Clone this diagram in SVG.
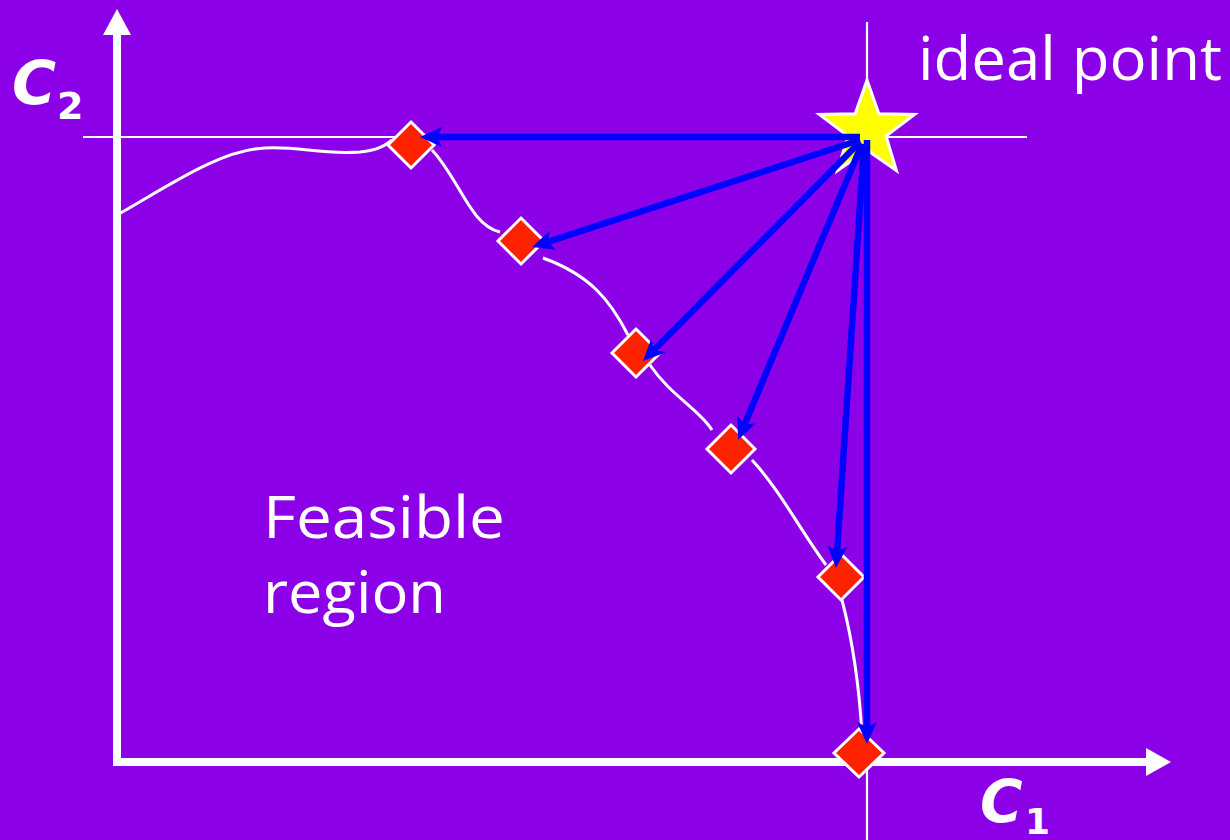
<svg xmlns="http://www.w3.org/2000/svg" xmlns:xlink="http://www.w3.org/1999/xlink" width="1230" height="840" viewBox="0 0 1230 840">
<defs>
<style>
.axis{stroke:#fff;stroke-width:8;fill:none}
.thin{stroke:#fff;stroke-width:2.2;fill:none}
.curve{stroke:#fff;stroke-width:3;fill:none}
.arr{stroke:#0000ff;stroke-width:6.5;fill:none}
.head{fill:#0000ff}
.dia{fill:#ff2200;stroke:#fff;stroke-width:3}
.lbl{fill:#fff;font-family:"Open Sans","DejaVu Sans",sans-serif}
.var{fill:#fff;font-family:"DejaVu Sans","Liberation Sans",sans-serif;font-weight:bold;font-style:italic}
.sub{fill:#fff;font-family:"DejaVu Sans","Liberation Sans",sans-serif;font-weight:bold;font-style:normal}
</style>
<path id="head" d="M0,0 L-22,-10 L-17,0 L-22,10 z"/>
</defs>
<rect width="1230" height="840" fill="#8c00e8"/>
<g id="axes">
<line class="axis" x1="117" y1="30" x2="117" y2="766"/>
<polygon points="117,9 103,35 131,35" fill="#fff"/>
<line class="axis" x1="113" y1="762" x2="1150" y2="762"/>
<polygon points="1171,762 1146,748 1146,776" fill="#fff"/>
<line class="thin" x1="83" y1="137" x2="1027" y2="137"/>
<line class="thin" x1="867" y1="22" x2="867" y2="840"/>
</g>
<g id="frontier">
<path class="curve" d="M117,215 C170,185 220,150 265,148 C300,146 320,155 360,152 C380,150 385,145 392,140 M432,150 C460,180 470,225 500,232 M543,258 C590,275 610,300 628,335 M650,365 C670,395 700,410 712,430 M752,460 C780,490 800,530 826,565 M842,600 C855,650 860,700 862,735"/>
</g>
<g id="ideal-point">
<polygon points="867,80 878.8,113.8 914.6,114.5 886,136 896.4,170.5 867,150 837.6,170.5 848,136 819.4,114.5 855.2,113.8" fill="#ffff00" stroke="#fff" stroke-width="3"/>
<text class="lbl" x="918" y="80" font-size="60" textLength="304" lengthAdjust="spacingAndGlyphs">ideal point</text>
</g>
<g id="p1"><polygon class="dia" points="411,122 434,145 411,168 388,145"/></g>
<g id="p2"><polygon class="dia" points="521,218 544,241 521,264 498,241"/></g>
<g id="p3"><polygon class="dia" points="636,329 660,353 636,377 612,353"/></g>
<g id="p4"><polygon class="dia" points="731,425 755,449 731,473 707,449"/></g>
<g id="p5"><polygon class="dia" points="841,554 864,577 841,600 818,577"/></g>
<g id="p6"><polygon class="dia" points="859,729 884,753 859,777 834,753"/></g>
<g id="connectors">
<line class="arr" x1="860" y1="137" x2="435" y2="137"/>
<use class="head" xlink:href="#head" href="#head" transform="translate(420,137) rotate(180)"/>
<line class="arr" x1="860" y1="140" x2="546.3" y2="242.4"/>
<use class="head" xlink:href="#head" href="#head" transform="translate(532,247) rotate(161.9)"/>
<line class="arr" x1="860" y1="142" x2="653.6" y2="350.3"/>
<use class="head" xlink:href="#head" href="#head" transform="translate(643,361) rotate(134.7)"/>
<line class="arr" x1="862" y1="144" x2="743.8" y2="426.2"/>
<use class="head" xlink:href="#head" href="#head" transform="translate(738,440) rotate(112.7)"/>
<line class="arr" x1="864" y1="144" x2="837" y2="553"/>
<use class="head" xlink:href="#head" href="#head" transform="translate(836,568) rotate(93.8)"/>
<line class="arr" x1="867" y1="140" x2="867" y2="729"/>
<use class="head" xlink:href="#head" href="#head" transform="translate(867,744) rotate(90)"/>
</g>
<g id="labels">
<text class="var" x="12" y="104" font-size="60">C</text>
<text class="sub" x="57" y="119" font-size="38">2</text>
<text class="var" x="980" y="822" font-size="58">C</text>
<text class="sub" x="1025" y="834" font-size="36">1</text>
<text class="lbl" x="263" y="538" font-size="58" textLength="242" lengthAdjust="spacingAndGlyphs">Feasible</text>
<text class="lbl" x="263" y="613" font-size="58" textLength="183" lengthAdjust="spacingAndGlyphs">region</text>
</g>
</svg>
